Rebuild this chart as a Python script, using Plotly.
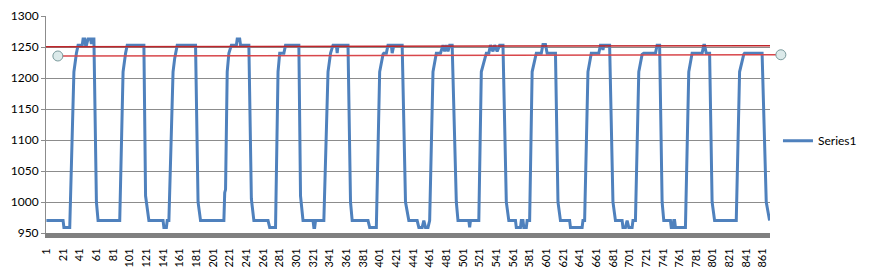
import plotly.graph_objects as go

# Breakpoints of the plotted series (sample index, reading); straight between them
sample_idx = [
    1, 21, 22, 29, 34, 36, 37, 39, 44, 45, 47, 48, 49, 51, 54, 55, 56, 58, 61, 63,
    89, 93, 95, 96, 98, 118, 120, 122, 124, 141, 142, 145, 146, 148,
    153, 155, 156, 158, 180, 183, 186, 214, 215, 216, 218, 220, 223, 229, 230, 233, 234, 244, 247, 250,
    267, 269, 276, 279, 281, 286, 288, 304, 306, 309,
    321, 322, 323, 324, 334, 339, 342, 345, 349, 350, 351, 363, 366, 368,
    387, 389, 397, 401, 405, 406, 409, 411, 415, 416, 418, 428, 432, 436,
    446, 448, 452, 454, 456, 459, 461, 465, 469, 474, 477, 479, 481, 483, 485, 488, 493, 495,
    508, 509, 510, 520, 523, 528, 529, 532, 534, 537, 539, 542, 545, 549, 553, 556,
    564, 565, 570, 571, 573, 574, 577, 578, 581, 584, 588, 589, 595, 597, 600, 602, 612, 615, 618,
    629, 630, 644, 645, 647, 651, 655, 664, 666, 668, 669, 670, 677, 681, 684,
    692, 693, 696, 698, 700, 704, 705, 708, 712, 716, 718, 732, 734, 737, 740, 742,
    750, 751, 753, 754, 755, 756, 768, 772, 776, 788, 790, 791, 793, 797, 800, 803,
    829, 833, 838, 839, 860, 865, 869,
]
reading = [
    970, 970, 959, 959, 1210, 1235, 1240, 1253, 1253, 1263, 1263, 1253, 1253, 1263, 1263, 1255, 1263, 1263, 1000, 970,
    970, 1210, 1232, 1240, 1253, 1253, 1010, 990, 970, 970, 959, 959, 970, 970,
    1210, 1232, 1240, 1253, 1253, 1000, 970, 970, 1015, 1020, 1210, 1240, 1253, 1253, 1263, 1263, 1253, 1253, 1005, 970,
    970, 959, 959, 1210, 1240, 1240, 1253, 1253, 1010, 970,
    970, 959, 959, 970, 970, 1210, 1240, 1253, 1253, 1240, 1253, 1253, 1000, 970,
    970, 959, 959, 1210, 1238, 1240, 1240, 1253, 1253, 1240, 1253, 1253, 1000, 970,
    970, 959, 959, 970, 959, 959, 970, 1210, 1240, 1240, 1253, 1243, 1253, 1243, 1253, 1253, 1000, 970,
    970, 959, 970, 970, 1210, 1235, 1240, 1240, 1253, 1243, 1253, 1243, 1253, 1253, 1000, 970,
    970, 959, 959, 970, 970, 959, 959, 970, 970, 1210, 1235, 1240, 1240, 1254, 1254, 1240, 1240, 1000, 970,
    970, 959, 959, 970, 970, 1210, 1240, 1240, 1253, 1253, 1245, 1253, 1253, 1000, 970,
    970, 959, 959, 970, 959, 959, 970, 970, 1210, 1238, 1240, 1240, 1253, 1253, 1000, 970,
    970, 959, 959, 970, 970, 959, 959, 1210, 1240, 1240, 1253, 1253, 1240, 1240, 1000, 970,
    970, 1210, 1238, 1240, 1240, 1000, 970,
]
n_samples = 869
x_tick_vals = list(range(1, 862, 20))
x_tick_text = [str(v) for v in x_tick_vals]
y_tick_vals = [950, 1000, 1050, 1100, 1150, 1200, 1250, 1300]

upper_limit = [1250.5, 1252.0]   # left, right value of upper red line
lower_limit = [1235.5, 1237.5]   # left, right value of lower red line

Y_MIN, Y_MAX = 950, 1300
FONT = "Lato"


def ypaper(v):
    return (v - Y_MIN) / (Y_MAX - Y_MIN)


fig = go.Figure()
fig.add_trace(go.Scatter(
    x=sample_idx, y=reading, mode="lines", name="Series1",
    line=dict(color="#4F81BD", width=3),
    hoverinfo="skip",
))

shapes = []
# upper red line across plot area
shapes.append(dict(type="line", xref="paper", yref="paper",
                   x0=0, x1=1, y0=ypaper(upper_limit[0]), y1=ypaper(upper_limit[1]),
                   line=dict(color="#C0262B", width=1.5), layer="above"))
# lower red line with circle ends
lx0, lx1 = 0.0164, 1.015
shapes.append(dict(type="line", xref="paper", yref="paper",
                   x0=lx0, x1=lx1, y0=ypaper(lower_limit[0]), y1=ypaper(lower_limit[1]),
                   line=dict(color="#D8474B", width=1.5), layer="above"))
for xa, v in ((lx0, lower_limit[0]), (lx1, lower_limit[1])):
    shapes.append(dict(type="circle", xref="paper", yref="paper",
                       xsizemode="pixel", ysizemode="pixel",
                       xanchor=xa, yanchor=ypaper(v),
                       x0=-5, x1=5, y0=-5, y1=5,
                       fillcolor="#DCEAEA", line=dict(color="#7A9A9C", width=1),
                       layer="above"))

fig.update_layout(
    width=870, height=276,
    margin=dict(l=46, r=94, t=8, b=42),
    paper_bgcolor="white", plot_bgcolor="white",
    font=dict(family=FONT, size=12, color="#000000"),
    showlegend=True,
    legend=dict(x=1.011, y=0.425, xanchor="left", yanchor="middle",
                font=dict(family=FONT, size=12, color="#000000"),
                bgcolor="rgba(0,0,0,0)", borderwidth=0),
    shapes=shapes,
    xaxis=dict(
        range=[0.5, n_samples + 0.5],
        tickmode="array", tickvals=x_tick_vals, ticktext=x_tick_text,
        tickangle=-90, tickfont=dict(family=FONT, size=11, color="#000000"),
        showgrid=False, zeroline=False,
        showline=True, linecolor="#808080", linewidth=5,
        ticks="outside", ticklen=6, tickcolor="rgba(0,0,0,0)",
    ),
    yaxis=dict(
        range=[Y_MIN, Y_MAX],
        tickmode="array", tickvals=y_tick_vals,
        tickfont=dict(family=FONT, size=12, color="#000000"),
        showgrid=True, gridcolor="#8C8C8C", gridwidth=1,
        zeroline=False,
        showline=True, linecolor="#8C8C8C", linewidth=1,
        ticks="outside", ticklen=4, tickcolor="#8C8C8C",
    ),
)

fig.write_html("out.html")
